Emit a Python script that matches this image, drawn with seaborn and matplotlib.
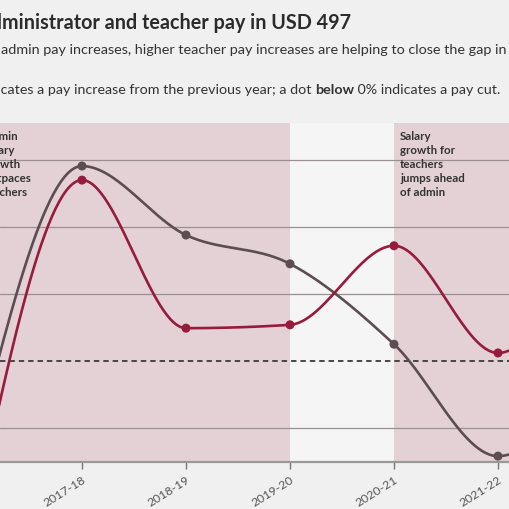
import numpy as np
import pandas as pd
import matplotlib
matplotlib.use("Agg")
import matplotlib.pyplot as plt
import matplotlib.transforms as mtransforms
import seaborn as sns

# values (year-over-year pay change, one grid step = 1 unit)
years = ["2016-17", "2017-18", "2018-19", "2019-20", "2020-21", "2021-22", "2022-23"]
admin_change = [-1.15, 2.91, 1.88, 1.45, 0.25, -1.42, 0.10]
teacher_change = [-2.10, 2.70, 0.49, 0.54, 1.72, 0.12, 2.30]
grid_values = [-1, 1, 2, 3]

GREY = "#5c4d53"
RED = "#971b3c"
PINK = "#e3d1d5"
LIGHT = "#f5f5f5"
BG = "#f0f0f0"
TEXT = "#2b2b2b"


def monotone_curve(y, n=60):
    """d3 curveMonotoneX style smoothing for evenly spaced points."""
    y = np.asarray(y, dtype=float)
    s = np.diff(y)
    t = np.zeros_like(y)
    for i in range(1, len(y) - 1):
        s0, s1 = s[i - 1], s[i]
        p = (s0 + s1) / 2
        t[i] = (np.sign(s0) + np.sign(s1)) * min(abs(s0), abs(s1), 0.5 * abs(p))
    t[0] = (3 * s[0] - t[1]) / 2
    t[-1] = (3 * s[-1] - t[-2]) / 2
    xs, ys = [], []
    for i in range(len(y) - 1):
        u = np.linspace(0, 1, n)
        h00 = 2 * u**3 - 3 * u**2 + 1
        h10 = u**3 - 2 * u**2 + u
        h01 = -2 * u**3 + 3 * u**2
        h11 = u**3 - u**2
        xs.append(i + u)
        ys.append(h00 * y[i] + h10 * t[i] + h01 * y[i + 1] + h11 * t[i + 1])
    return np.concatenate(xs), np.concatenate(ys)


sns.set_theme(style="white")
plt.rcParams["font.family"] = ["Lato", "DejaVu Sans"]

fig = plt.figure(figsize=(5.1, 5.1), dpi=100, facecolor=BG)
ax = fig.add_axes([0, 47 / 510, 1, 339 / 510])
ax.set_facecolor(LIGHT)

for vals, col in [(admin_change, GREY), (teacher_change, RED)]:
    cx, cy = monotone_curve(vals)
    curve = pd.DataFrame({"x": cx, "y": cy})
    sns.lineplot(data=curve, x="x", y="y", color=col, lw=1.9, ax=ax, zorder=3,
                 sort=False, estimator=None)
    pts = pd.DataFrame({"x": np.arange(len(years)), "y": vals})
    sns.scatterplot(data=pts, x="x", y="y", color=col, s=42, edgecolor="none",
                    ax=ax, zorder=4)

# the reference is a crop: 2016-17 and 2022-23 fall just outside the frame
xmin, xmax = 22 / 104, 532 / 104
ax.set_xlim(xmin, xmax)
ax.set_ylim(-101 / 67, 238 / 67)

ax.axvspan(xmin - 1, 3, color=PINK, lw=0, zorder=0)
ax.axvspan(4, xmax + 1, color=PINK, lw=0, zorder=0)

for g in grid_values:
    ax.axhline(g, color="#9a9093", lw=0.9, zorder=1)
ax.axhline(0, color="#3a3a3a", lw=1.3, ls=(0, (3, 2.2)), zorder=1)

ax.set_xticks(range(1, len(years) - 1))
ax.set_xticklabels(years[1:-1], rotation=32, ha="right", rotation_mode="anchor",
                   fontsize=8.8, color="#555555")
ax.set_xlim(xmin, xmax)
ax.set_yticks([])
ax.tick_params(axis="x", length=5, width=1, color="#777777", pad=3, bottom=True)
ax.set_xlabel("")
ax.set_ylabel("")
for side in ["left", "right", "top"]:
    ax.spines[side].set_visible(False)
ax.spines["bottom"].set_color("#999999")
ax.spines["bottom"].set_linewidth(1.6)

trans = mtransforms.blended_transform_factory(ax.transData, ax.transAxes)
ann_kw = dict(fontsize=8.3, fontweight="bold", color="#333333", va="top",
              ha="left", linespacing=1.33, transform=trans, zorder=5)
ax.text(0.06, 0.978, "Admin\nsalary\ngrowth\noutpaces\nteachers", **ann_kw)
ax.text(4.06, 0.978, "Salary\ngrowth for\nteachers\njumps ahead\nof admin", **ann_kw)

# header text, cropped at the image edges like the reference
fig.text(-0.044, 0.943, "Administrator and teacher pay in USD 497", fontsize=14.2,
         fontweight="bold", color=TEXT, va="baseline")
fig.text(0.001, 0.894, "admin pay increases, higher teacher pay increases are helping to close the gap in recent years",
         fontsize=10.4, color="#333333", va="baseline")

fig.canvas.draw()
renderer = fig.canvas.get_renderer()
pieces = [("A dot ", "normal"), ("above", "bold"), (" 0% indicates a pay increase from the previous year; a dot ", "normal"),
          ("below", "bold"), (" 0% indicates a pay cut.", "normal")]
probe = fig.text(0, 0, "A dot ", fontsize=10.3)
w1 = probe.get_window_extent(renderer).width
probe.set_text("above")
probe.set_fontweight("bold")
w2 = probe.get_window_extent(renderer).width
probe.set_text(" 0% indi")
probe.set_fontweight("normal")
w3 = probe.get_window_extent(renderer).width
probe.remove()
x_px = 1 - (w1 + w2 + w3)
y_frac = 0.816
for txt, weight in pieces:
    t = fig.text(x_px / 510, y_frac, txt, fontsize=10.3, fontweight=weight,
                 color="#333333", va="baseline")
    x_px += t.get_window_extent(renderer).width

fig.savefig("out.png", dpi=100, facecolor=BG)
